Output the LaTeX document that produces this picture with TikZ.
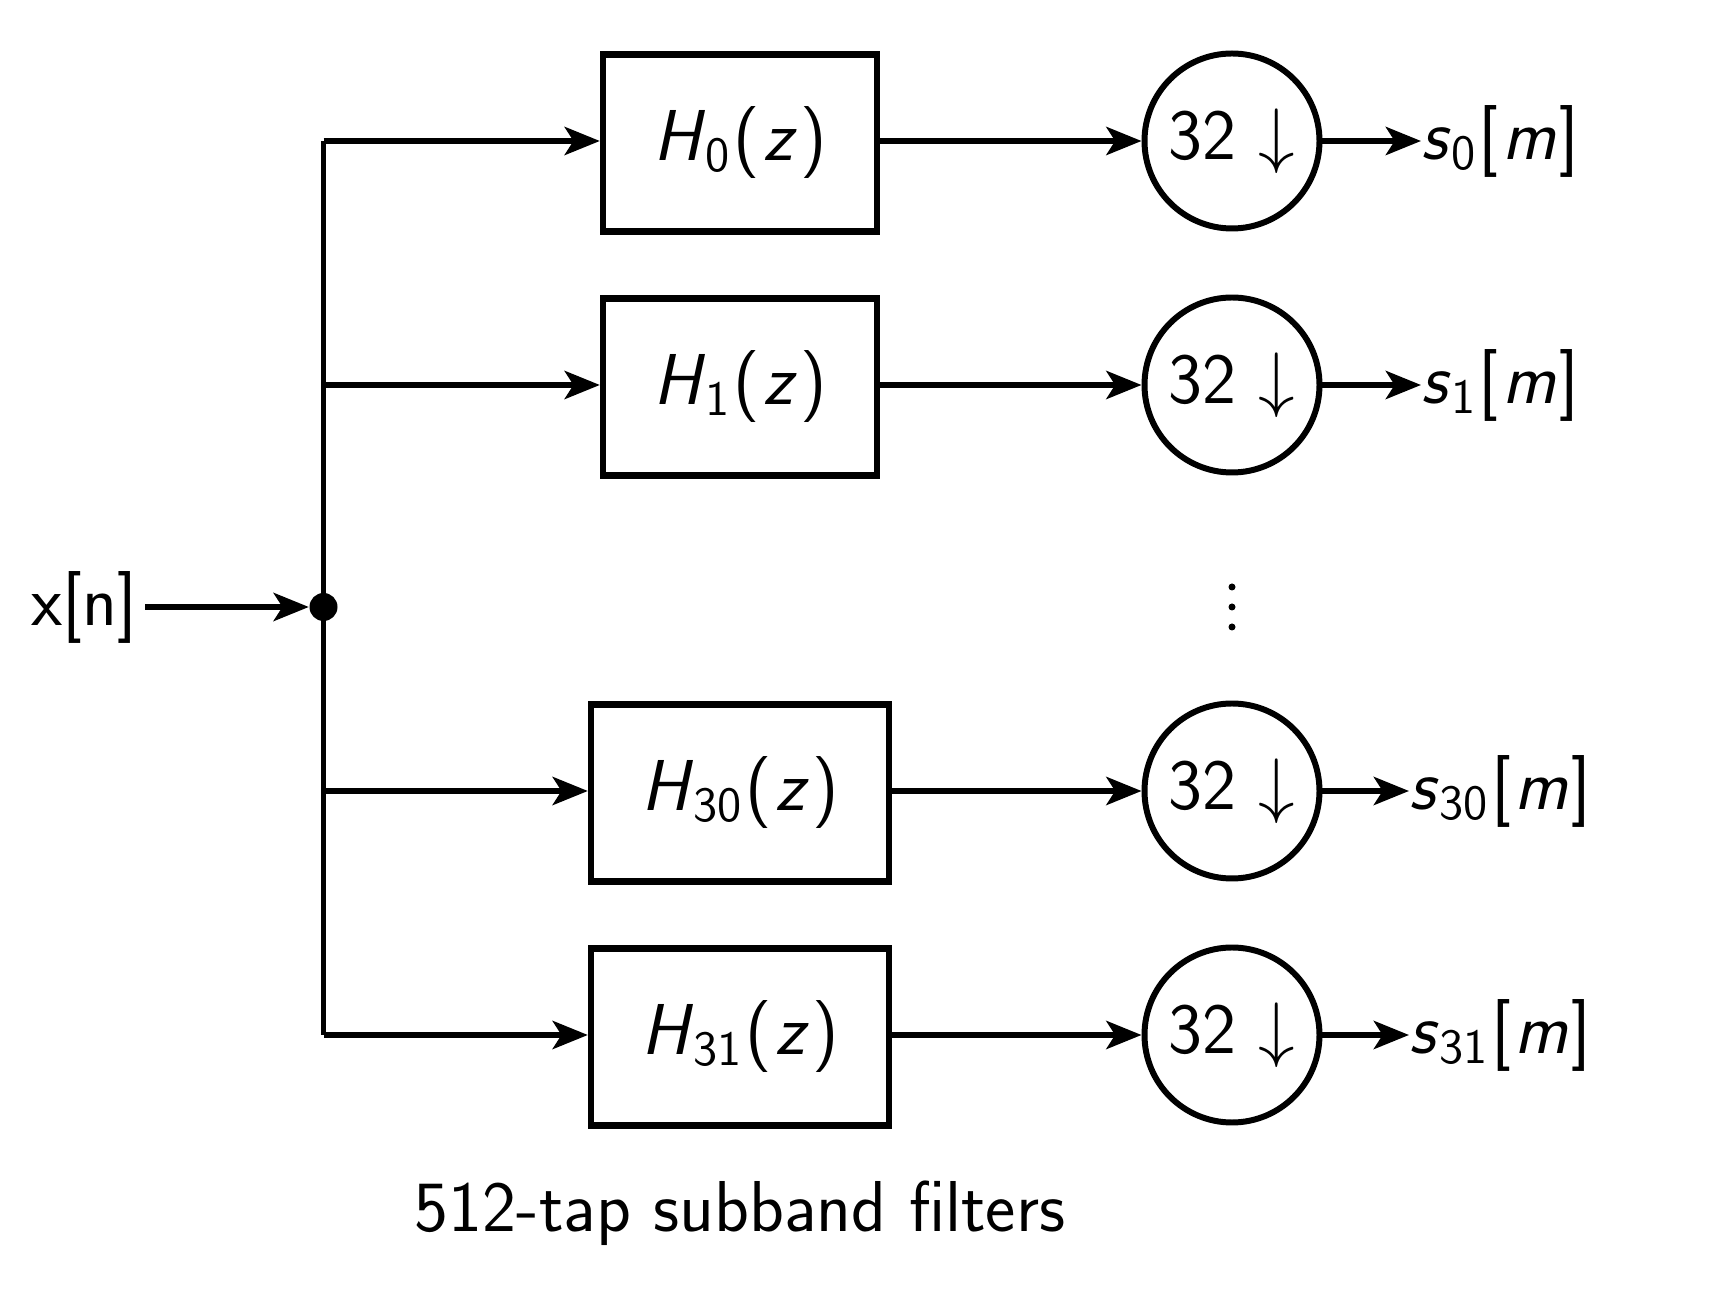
\documentclass[tikz,border=0pt]{standalone}
\usetikzlibrary{arrows.meta}
\newcommand{\sv}[1]{\textit{#1}}
\newcommand{\sbs}[1]{\raisebox{-0.35ex}{\fontsize{14}{16}\selectfont #1}}
\newcommand{\pl}{\kern0.05em(\kern0.05em}
\newcommand{\pr}{\kern0.05em)}
\begin{document}
\begin{tikzpicture}[x=0.01cm,y=-0.01cm,
  font=\sffamily\fontsize{20.5}{24}\selectfont,
  filt/.style={draw,line width=1.8pt,minimum width=274*0.01cm,minimum height=177*0.01cm,inner sep=0pt},
  filtw/.style={filt,minimum width=298*0.01cm},
  dec/.style={draw,circle,line width=1.7pt,minimum size=175*0.01cm,inner sep=0pt},
  arr/.style={line width=1.6pt,-{Stealth[length=10pt,width=8pt,inset=2.5pt]}},
  ln/.style={line width=1.6pt}]
\useasboundingbox[fill=white] (0,0) rectangle (1714,1313);
% filters
\node[filt]  (h0)  at (740,143) {\sv{H}\sbs{0}\pl\sv{z}\pr};
\node[filt]  (h1)  at (740,387) {\sv{H}\sbs{1}\pl\sv{z}\pr};
\node[filtw] (h30) at (740,793) {\sv{H}\sbs{30}\pl\sv{z}\pr};
\node[filtw] (h31) at (740,1037) {\sv{H}\sbs{31}\pl\sv{z}\pr};
% decimators
\node[dec] (d0)  at (1232,141) {32\ $\downarrow$};
\node[dec] (d1)  at (1232,385) {32\ $\downarrow$};
\node[dec] (d30) at (1232,791) {32\ $\downarrow$};
\node[dec] (d31) at (1232,1035) {32\ $\downarrow$};
% outputs
\node[anchor=west,inner sep=0pt] (s0)  at (1421,141) {\sv{s}\sbs{0}\kern0.05em[\kern0.05em\sv{m}\kern0.05em]};
\node[anchor=west,inner sep=0pt] (s1)  at (1421,385) {\sv{s}\sbs{1}\kern0.05em[\kern0.05em\sv{m}\kern0.05em]};
\node[anchor=west,inner sep=0pt] (s30) at (1409,791) {\sv{s}\sbs{30}\kern0.05em[\kern0.05em\sv{m}\kern0.05em]};
\node[anchor=west,inner sep=0pt] (s31) at (1409,1035) {\sv{s}\sbs{31}\kern0.05em[\kern0.05em\sv{m}\kern0.05em]};
% input
\node[inner sep=0pt] (x) at (84,607) {x[n]};
\node[circle,fill=black,inner sep=0pt,minimum size=28*0.01cm] (dot) at (323.5,607) {};
\coordinate (b0) at (323.5,141);
\coordinate (b1) at (323.5,385);
\coordinate (b30) at (323.5,791);
\coordinate (b31) at (323.5,1035);
\draw[arr] (x.east) ++(8,0) -- (dot.west);
\draw[ln] (b0) -- (b31);
\draw[arr] (b0) -- (b0 -| h0.west);
\draw[arr] (b1) -- (b1 -| h1.west);
\draw[arr] (b30) -- (b30 -| h30.west);
\draw[arr] (b31) -- (b31 -| h31.west);
\draw[arr] (h0.east |- d0) -- (d0.west);
\draw[arr] (h1.east |- d1) -- (d1.west);
\draw[arr] (h30.east |- d30) -- (d30.west);
\draw[arr] (h31.east |- d31) -- (d31.west);
\draw[arr] (d0.east) -- (s0.west);
\draw[arr] (d1.east) -- (s1.west);
\draw[arr] (d30.east) -- (s30.west);
\draw[arr] (d31.east) -- (s31.west);
% vertical dots
\foreach \yy in {587,607,627} \fill (1232,\yy) circle (3.5);
% caption
\node (cap) at (740,1213) {512-tap subband filters};
\end{tikzpicture}
\end{document}
